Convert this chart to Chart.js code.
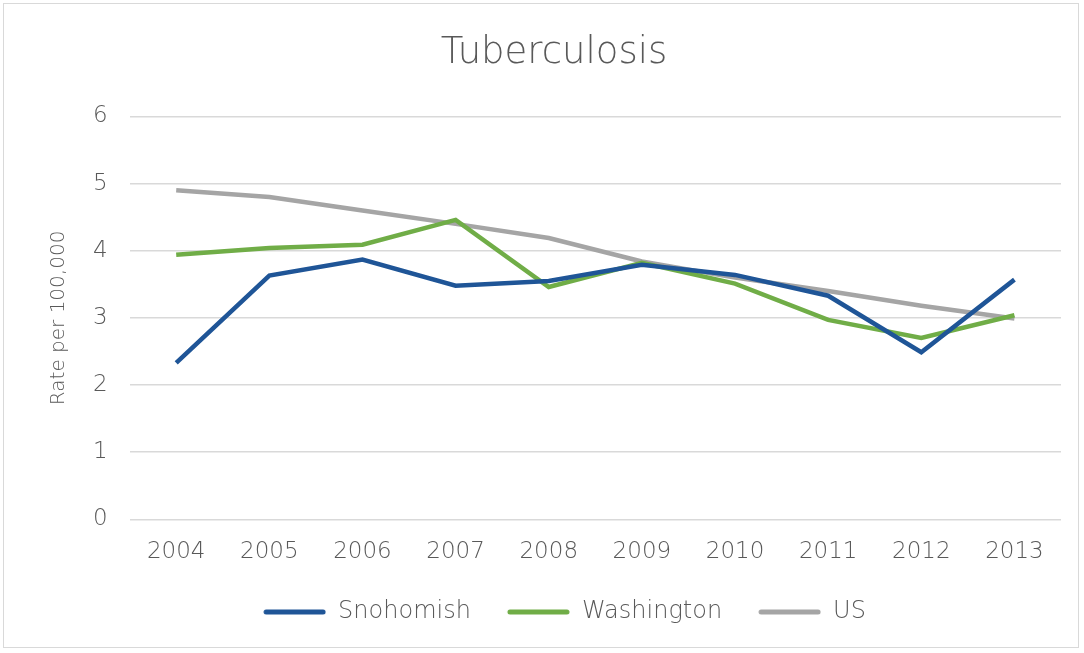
<!DOCTYPE html>
<html>
<head>
<meta charset="utf-8">
<script src="https://cdn.jsdelivr.net/npm/chart.js@4"></script>
<style>
  html, body { margin: 0; padding: 0; background: #fff; }
  #wrap {
    position: absolute; left: 3px; top: 3px;
    width: 1076px; height: 645px;
    border: 1px solid #d9d9d9; box-sizing: border-box;
  }
</style>
</head>
<body>
<div id="wrap"><canvas id="chart"></canvas></div>
<script>
// years on the x axis
const years = ['2004', '2005', '2006', '2007', '2008', '2009', '2010', '2011', '2012', '2013'];

// rate per 100,000
const snohomish = [2.33, 3.63, 3.87, 3.48, 3.55, 3.79, 3.64, 3.33, 2.49, 3.57];
const washington = [3.94, 4.04, 4.09, 4.46, 3.46, 3.82, 3.51, 2.97, 2.70, 3.04];
const us = [4.90, 4.80, 4.60, 4.40, 4.19, 3.84, 3.60, 3.40, 3.18, 2.99];

const textColor = '#595959';
const font = "'DejaVu Sans', sans-serif";

// legend swatch: short line at the right end of a wider box, so the items sit further apart
const swatchWidth = 84;
function legendLine(color) {
    const c = document.createElement('canvas');
    c.width = swatchWidth;
    c.height = 8;
    const g = c.getContext('2d');
    g.strokeStyle = color;
    g.lineWidth = 5;
    g.lineCap = 'round';
    g.beginPath();
    g.moveTo(swatchWidth - 60, 4);
    g.lineTo(swatchWidth - 3, 4);
    g.stroke();
    return c;
}

const ctx = document.getElementById('chart').getContext('2d');
new Chart(ctx, {
    type: 'line',
    data: {
        labels: years,
        datasets: [
            { label: 'Snohomish', data: snohomish, borderColor: '#1f5597', backgroundColor: '#1f5597' },
            { label: 'Washington', data: washington, borderColor: '#70ad47', backgroundColor: '#70ad47' },
            { label: 'US', data: us, borderColor: '#a5a5a5', backgroundColor: '#a5a5a5' }
        ].map(d => Object.assign(d, {
            borderWidth: 4.5,
            pointRadius: 0,
            tension: 0,
            fill: false
        }))
    },
    options: {
        responsive: true,
        maintainAspectRatio: false,
        animation: false,
        layout: { padding: { left: 43, right: 17, top: 14, bottom: 13 } },
        plugins: {
            title: {
                display: true,
                text: 'Tuberculosis',
                color: textColor,
                font: { family: font, size: 37, weight: '200' },
                padding: { top: 13, bottom: 41 }
            },
            legend: {
                position: 'bottom',
                labels: {
                    color: textColor,
                    font: { family: font, size: 24, weight: '200' },
                    usePointStyle: true,
                    pointStyleWidth: swatchWidth,
                    boxHeight: 8,
                    padding: 15,
                    generateLabels(chart) {
                        return chart.data.datasets.map((d, i) => ({
                            text: d.label,
                            pointStyle: legendLine(d.borderColor),
                            fillStyle: d.borderColor,
                            strokeStyle: d.borderColor,
                            lineWidth: 0,
                            fontColor: textColor,
                            datasetIndex: i
                        }));
                    }
                }
            },
            tooltip: { enabled: false }
        },
        scales: {
            x: {
                offset: true,
                grid: { display: false, drawTicks: false },
                border: { display: false },
                ticks: {
                    color: textColor,
                    font: { family: font, size: 23, weight: '200' },
                    padding: 19,
                    maxRotation: 0
                }
            },
            y: {
                min: 0,
                max: 6,
                grid: { color: '#d9d9d9', lineWidth: 1.5, drawTicks: false },
                border: { display: false },
                ticks: {
                    stepSize: 1,
                    color: textColor,
                    font: { family: font, size: 23, weight: '200' },
                    padding: 22
                },
                title: {
                    display: true,
                    text: 'Rate per 100,000',
                    color: textColor,
                    font: { family: font, size: 20, weight: '200' },
                    padding: { top: 0, bottom: 0 }
                }
            }
        }
    }
});
</script>
</body>
</html>
